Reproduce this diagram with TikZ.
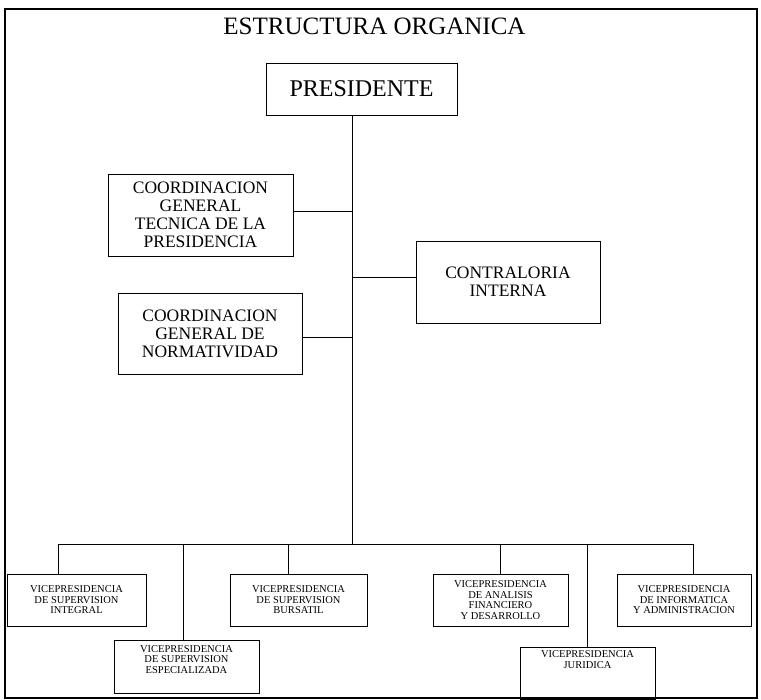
\documentclass[tikz,border=0pt]{standalone}
\usepackage{fontspec}
\setmainfont{Liberation Serif}
\tikzstyle{unit} = [rectangle, draw=black, line width=0.8pt, align=center, inner sep=2pt]
\tikzstyle{coord} = [unit, font=\fontsize{17.5}{18}\selectfont]
\tikzstyle{vice} = [unit, font=\fontsize{10.5}{10.5}\selectfont]
\tikzstyle{link} = [line width=0.8pt]

\begin{document}
\begin{tikzpicture}[x=1pt,y=1pt]
    \useasboundingbox (0,0) rectangle (761,-700);
    \draw [line width=1.3pt] (5,-9) rectangle (757,-698);

    % Nodes
    \node (title) at (374.5,-26) [font=\fontsize{25}{27}\selectfont] {ESTRUCTURA ORGANICA};
    \node (pres) [unit, minimum width=191pt, minimum height=52pt, font=\fontsize{24}{26}\selectfont] at (361.5,-89) {PRESIDENTE};
    \node (tecnica) [coord, minimum width=185pt, minimum height=82pt] at (200.5,-215) {COORDINACION\\GENERAL\\TECNICA DE LA\\PRESIDENCIA};
    \node (contra) [coord, minimum width=184pt, minimum height=82pt] at (508,-282) {CONTRALORIA\\INTERNA};
    \node (norma) [coord, minimum width=184pt, minimum height=81pt] at (210,-333.5) {COORDINACION\\GENERAL DE\\NORMATIVIDAD};
    \node (integral) [vice, minimum width=139pt, minimum height=52pt] at (76.5,-600) {VICEPRESIDENCIA\\DE SUPERVISION\\INTEGRAL};
    \node (especial) [vice, minimum width=145pt, minimum height=53pt] at (186.5,-666.5) {VICEPRESIDENCIA\\DE SUPERVISION\\ESPECIALIZADA\\[4pt]~};
    \node (bursatil) [vice, minimum width=137pt, minimum height=52pt] at (298.5,-600) {VICEPRESIDENCIA\\DE SUPERVISION\\BURSATIL};
    \node (analisis) [vice, minimum width=135pt, minimum height=52pt] at (500.5,-600) {VICEPRESIDENCIA\\DE ANALISIS\\FINANCIERO\\Y DESARROLLO};
    \node (juridica) [vice, minimum width=135pt, minimum height=52pt] at (587.5,-673) {VICEPRESIDENCIA\\JURIDICA\\[16pt]~};
    \node (informat) [vice, minimum width=134pt, minimum height=52pt] at (684,-600) {VICEPRESIDENCIA\\DE INFORMATICA\\Y ADMINISTRACION};

    % Lines
    \coordinate (trunk) at (352,-115);
    \coordinate (bus) at (352,-544);
    \draw [link] (pres.south -| trunk) -- (bus);
    \draw [link] ([yshift=4pt]tecnica.east) -- ([yshift=4pt]tecnica.east -| trunk);
    \draw [link] ([yshift=5pt]contra.west) -- ([yshift=5pt]contra.west -| trunk);
    \draw [link] ([yshift=-3.5pt]norma.east) -- ([yshift=-3.5pt]norma.east -| trunk);
    \draw [link] ([xshift=-18.5pt]integral.north) |- (bus);
    \draw [link] ([xshift=-3.5pt]especial.north) |- (bus);
    \draw [link] ([xshift=-10.5pt]bursatil.north) |- (bus);
    \draw [link] (analisis.north) |- (bus);
    \draw [link] (juridica.north) |- (bus);
    \draw [link] ([xshift=9pt]informat.north) |- (bus);

\end{tikzpicture}
\end{document}
